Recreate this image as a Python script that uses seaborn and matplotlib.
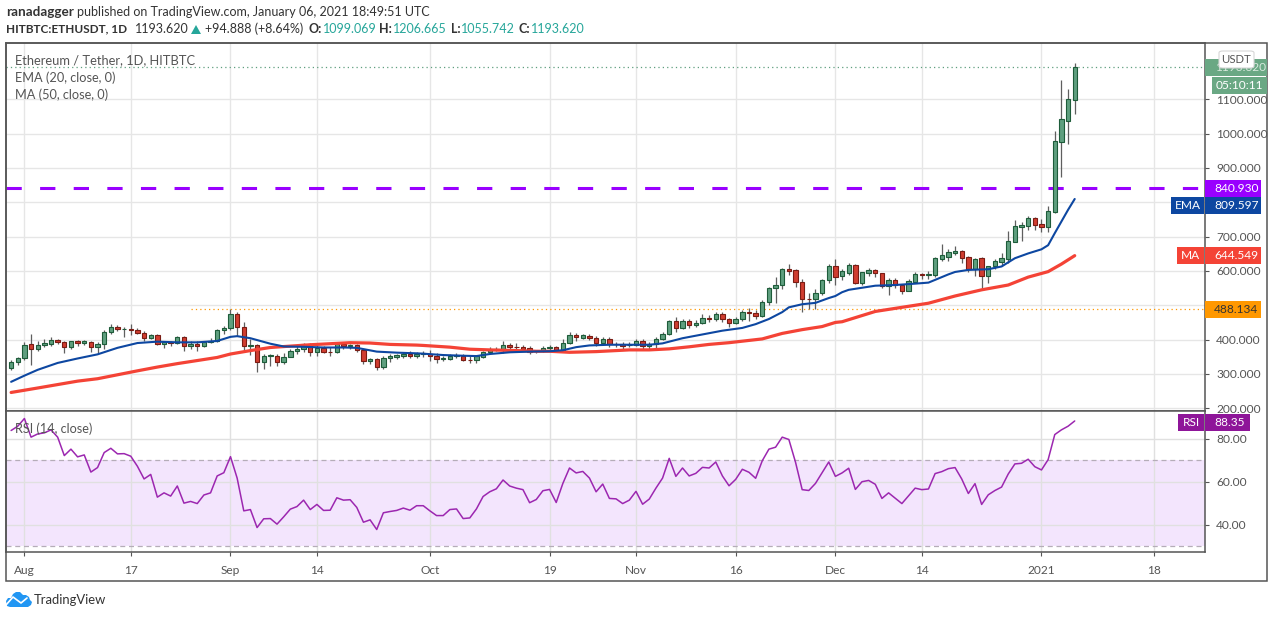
import pandas as pd
import matplotlib
matplotlib.use('Agg')
import matplotlib.pyplot as plt
from matplotlib.lines import Line2D
from matplotlib.patches import Rectangle, FancyBboxPatch, Polygon
import seaborn as sns

# candles, one per day from 2020-07-30, ten to a row
opens = [318,335,347,388,372,384,386,399,393,378,
         396,389,394,379,388,423,437,431,431,428,
         420,404,414,387,394,390,408,381,386,381,
         392,396,427,433,475,437,382,385,335,353,
         353,335,349,366,372,387,364,375,365,364,
         387,380,384,370,337,344,320,347,349,352,
         357,353,358,359,353,344,343,352,353,341,
         340,349,364,370,371,385,379,379,376,366,
         366,376,379,367,390,414,406,411,405,390,
         402,387,388,383,384,397,382,387,401,416,
         455,433,455,442,449,463,459,475,460,448,
         459,481,478,468,509,549,558,606,603,568,
         519,518,535,573,614,585,595,617,566,595,
         603,593,555,574,558,543,569,590,589,589,
         636,642,653,657,640,607,637,584,613,627,
         636,685,729,732,753,736,729,772,977,1038,
         1099.069]
closes = [335,347,385,372,385,389,399,393,378,396,
          390,395,379,388,423,437,430,431.5,427,419,
          405,414,387,394,390,408,382,386,381,394,
          396,428,434,475,437,381,385,335,353,354,
          335,350,367,373,387,364,376,364,364,388,
          380,384,370,337,344,321,347,351,354,357,
          352,358,360,352,343,345,353,355,340,340,
          351,365,370,373,385,378,378,374,365,367,
          376,379,366,391,414,407,412,404,390,402,
          387,386,381,385,397,381,388,402,417,455,
          433,455,442,449,463,459,475,459,448,460,
          481,477,468,510,550,559,606,601,567,517,
          518,536,574,614,581,599,617,566,596,603,
          593,555,574,558,543,570,590,589,590,637,
          646,654,657,639,607,636,584,613,628,637,
          686,730,733,753,735,729,774,978,1042,1100,
          1193.62]
highs = [341,350,392,415,397,403,407,403,397,397,
         399,399,396,393,429,444,442,436,446,433,
         426,417,417,397,396,411,411,395,396,397,
         405,430,441,488,481,450,402,388,359,359,
         357,360,374,383,391,391,383,381,378,394,
         391,387,388,374,347,346,353,357,358,364,
         368,364,368,371,361,351,359,361,357,351,
         355,368,378,378,395,390,390,383,380,370,
         380,384,382,401,421,419,417,417,411,409,
         408,394,393,393,401,402,392,409,421,457,
         467,461,459,456,475,473,480,479,463,465,
         485,492,485,514,554,581,609,621,607,577,
         535,548,577,620,636,605,622,620,598,609,
         607,595,580,578,562,576,596,595,601,640,
         679,663,673,661,644,638,640,615,634,651,
         716,749,743,760,758,751,789,1009,1156,1130,
         1206.665]
lows = [310,326,340,326,366,378,380,388,360,374,
        381,383,365,362,374,415,425,409,413,415,
        396,401,384,376,380,386,366,374,368,378,
        390,393,415,428,411,366,355,307,314,322,
        322,328,349,357,364,352,353,361,352,361,
        372,374,363,330,330,310,314,334,344,347,
        347,347,349,337,332,339,341,345,337,332,
        332,346,361,366,361,372,370,368,357,361,
        363,370,363,365,386,397,401,399,382,388,
        378,378,370,378,382,370,372,372,399,413,
        423,430,434,436,446,450,454,450,438,444,
        455,455,459,467,500,508,548,587,552,480,
        490,490,529,566,560,574,588,562,560,584,
        582,550,530,549,533,543,564,576,576,582,
        630,630,647,622,596,585,551,566,607,615,
        624,683,687,718,719,712,714,770,875,970,
        1055.742]

# indicator readings, day number counted from Aug 1
ema_days = [-2,-1,0,2,5,8,11,14,17,20,23,26,29,31,32,34,37,39,42,45,48,50,53,56,59,
            60,63,66,68,70,73,76,79,81,83,85,88,91,94,96,99,102,105,108,110,112,114,115,117,119,121,122,
            123,124,128,131,134,136,139,140,142,145,147,149,151,153,154,155,156,157,158]
ema_vals = [277,286,295,312,332,345,357,376,390,394,392,392,396,408,410,404,388,380,379,377,377,376,365,362,360,
            359,355,353,352,358,363,365,366,369,378,383,385,385,385,389,404,415,426,434,445,460,480,494,503,507,521,527,
            538,545,557,559,563,566,590,597,603,605,613,637,651,663,675,710,744,778,809.597]
ma_days = [-2,2,8,11,17,20,23,26,29,31,34,37,40,43,46,49,52,55,59,
           60,64,67,70,74,77,79,82,86,91,94,97,100,103,106,111,114,117,120,122,
           123,128,132,136,140,144,148,151,154,156,158]
ma_vals = [246,259,279,286,309,320,330,339,348,358,368,377,381,385,388,391,390,386,384,
           383,378,372,370,368,366,366,363,365,370,370,373,379,386,391,402,418,429,438,450,
           452,482,494,506,527,545,559,582,598,620,644.549]
rsi_vals = [83.9,85.9,89.5,80.8,82.3,82.8,84.2,80.8,72.2,75.2, 71.6,72.5,64.5,66.6,73.6,75.6,73.0,73.1,71.9,67.2,
            61.3,63.4,52.8,54.8,53.3,58.0,50.0,50.8,49.8,53.8, 54.8,62.7,64.2,71.7,61.7,46.4,47.0,38.6,42.7,42.8,
            40.2,43.6,47.2,48.4,51.4,47.0,49.4,46.6,46.7,52.5, 51.4,51.6,48.0,41.1,42.2,37.7,45.5,46.1,46.6,47.7,
            46.7,48.8,48.8,46.4,44.2,44.2,47.0,47.3,42.8,43.1, 47.3,53.1,55.3,56.7,60.8,58.0,57.0,56.3,50.2,51.7,
            55.8,56.4,50.3,59.2,66.4,64.1,64.8,61.7,55.3,58.9, 52.2,52.0,49.8,51.4,55.5,49.5,51.9,57.0,61.7,70.9,
            62.5,66.4,62.7,63.9,66.7,66.4,69.2,62.7,58.1,61.1, 65.8,64.4,61.6,69.8,75.2,76.1,80.8,79.7,69.1,56.3,
            55.9,59.2,64.2,69.2,62.5,64.1,66.3,56.4,60.0,60.6, 58.8,52.2,54.8,52.3,49.8,53.4,57.0,56.3,56.6,63.8,
            64.7,66.1,66.6,61.3,54.5,59.1,49.4,53.9,55.9,57.5, 63.6,68.3,68.6,70.5,67.0,65.5,70.3,82.0,84.2,85.9,
            88.35]

tick_dates = ['2020-08-01','2020-08-17','2020-09-01','2020-09-14','2020-10-01','2020-10-19','2020-11-01',
              '2020-11-16','2020-12-01','2020-12-14','2021-01-01','2021-01-18']
tick_labels = ['Aug','17','Sep','14','Oct','19','Nov','16','Dec','14','2021','18']
price_ticks = [200,300,400,500,600,700,800,900,1000,1100]
price_labels = ['200.000','300.000','400.000','','600.000','700.000','','900.000','1000.000','1100.000']
rsi_ticks = [40,60,80]
rsi_labels = ['40.00','60.00','80.00']

resistance = 840.930
support = 488.134
last_close = 1193.620

W, H = 1274, 618
FONT = 'Lato'
GREY = '#555555'
TAG = 8.6
sns.set_theme(style='white', rc={'axes.edgecolor': '#555555'})
plt.rcParams['font.family'] = [FONT, 'DejaVu Sans']


def pane(left, top, right, bottom):
    return fig.add_axes([left / W, 1 - bottom / H, (right - left) / W, (bottom - top) / H])


def put(x, y, s, **kw):
    kw.setdefault('fontsize', 9.0)
    kw.setdefault('va', 'center')
    kw.setdefault('color', '#333333')
    fig.text(x / W, 1 - y / H, s, **kw)


def box(x0, y0, x1, y1, color):
    fig.add_artist(Rectangle((x0 / W, 1 - y1 / H), (x1 - x0) / W, (y1 - y0) / H,
                             transform=fig.transFigure, facecolor=color, edgecolor='none', zorder=5))


fig = plt.figure(figsize=(W / 100, H / 100), dpi=100, facecolor='white')
dates = pd.date_range('2020-07-30', periods=len(closes))
day0 = pd.Timestamp('2020-08-01')
ticks = pd.to_datetime(tick_dates)
xlim = (day0 + pd.Timedelta(days=-2.77), day0 + pd.Timedelta(days=177.6))

ax = pane(6, 43, 1205, 411)
rs = pane(6, 411, 1205, 552)

# price pane
df = pd.DataFrame({'date': dates, 'o': opens, 'c': closes, 'h': highs, 'l': lows})
up = df[df.c >= df.o]
down = df[df.c < df.o]
ax.vlines(df.date, df.l, df.h, color='#5f5f5f', lw=0.9, zorder=3)
ax.bar(up.date, (up.c - up.o), bottom=up.o, width=0.66, color='#5f9f7f', edgecolor='#1e5c3a', lw=0.8, zorder=4)
ax.bar(down.date, (down.o - down.c), bottom=down.c, width=0.66, color='#d03d30', edgecolor='#7a1c14', lw=0.8, zorder=4)

ema = pd.DataFrame({'date': day0 + pd.to_timedelta(ema_days, unit='D'), 'v': ema_vals})
ma = pd.DataFrame({'date': day0 + pd.to_timedelta(ma_days, unit='D'), 'v': ma_vals})
sns.lineplot(data=ma, x='date', y='v', ax=ax, color='#f44336', lw=2.3, errorbar=None, zorder=5)
sns.lineplot(data=ema, x='date', y='v', ax=ax, color='#0d47a1', lw=1.5, errorbar=None, zorder=6)

ax.axhline(resistance, color='#9900ff', lw=2.2, dashes=(5, 6), zorder=2)
ax.plot([day0 + pd.Timedelta(days=25), xlim[1]], [support, support], color='#ff9800', lw=0.9, ls=(0, (1, 2.5)), zorder=2)
ax.axhline(last_close, color='#5f9f7f', lw=0.9, ls=(0, (1, 2.5)), zorder=2)

ax.set_xlim(xlim)
ax.set_ylim(192, 1264)
ax.set_xticks(ticks)
ax.set_xticklabels([])
ax.set_yticks(price_ticks)
ax.set_yticklabels(price_labels)
ax.yaxis.tick_right()
ax.grid(True, color='#e6e6e6', lw=1)
ax.set_axisbelow(True)
ax.set_xlabel('')
ax.set_ylabel('')
ax.tick_params(axis='y', length=3, width=0.8, color=GREY, labelcolor=GREY, labelsize=TAG, pad=5, right=True)
ax.tick_params(axis='x', length=0)

# rsi pane
rs.axhspan(30, 70, color='#f3e5fd', zorder=0, lw=0)
rs.axhline(70, color='#b5adb8', lw=0.9, dashes=(4, 3), zorder=1)
rs.axhline(30, color='#b5adb8', lw=0.9, dashes=(4, 3), zorder=1)
sns.lineplot(x=dates, y=rsi_vals, ax=rs, color='#9c27b0', lw=1.1, errorbar=None, zorder=4)
rs.set_xlim(xlim)
rs.set_ylim(27.2, 93)
rs.set_xticks(ticks)
rs.set_xticklabels(tick_labels)
rs.set_yticks(rsi_ticks)
rs.set_yticklabels(rsi_labels)
rs.yaxis.tick_right()
rs.grid(True, color='#e0e0e0', lw=1)
rs.set_axisbelow(True)
rs.set_xlabel('')
rs.set_ylabel('')
rs.tick_params(axis='y', length=3, width=0.8, color=GREY, labelcolor=GREY, labelsize=TAG, pad=5, right=True)
rs.tick_params(axis='x', length=3, width=0.8, color=GREY, labelcolor=GREY, labelsize=8.6, pad=6, bottom=True)
for a in (ax, rs):
    for s in a.spines.values():
        s.set_color(GREY)
        s.set_linewidth(1.1)

# outer frame
fig.add_artist(Rectangle((6 / W, 1 - 581 / H), 1261 / W, 538 / H, transform=fig.transFigure,
                         facecolor='none', edgecolor=GREY, lw=1.1, zorder=4))

# pane legends
put(15, 60.5, 'Ethereum / Tether, 1D, HITBTC', color='#555555', fontsize=9.3, zorder=7)
put(15, 77.5, 'EMA (20, close, 0)', color='#555555', fontsize=9.2, zorder=7)
put(15, 94.5, 'MA (50, close, 0)', color='#555555', fontsize=9.2, zorder=7)
put(15, 428.5, 'RSI (14, close)', color='#555555', fontsize=9.1, zorder=7)

# header
put(6, 12, 'ranadagger', fontweight='bold', fontsize=9.7)
put(77, 12, 'published on TradingView.com, January 06, 2021 18:49:51 UTC')
put(6, 29, 'HITBTC:ETHUSDT, 1D', fontweight='bold', fontsize=8.5)
put(135, 29, '1193.620')
fig.add_artist(Polygon([(191 / W, 1 - 34 / H), (201 / W, 1 - 34 / H), (196 / W, 1 - 25 / H)],
                       transform=fig.transFigure, facecolor='#26a69a', edgecolor='none'))
put(205, 29, '+94.888 (+8.64%)')
for x_lab, x_val, lab, val in [(308.7, 322.7, 'O:', '1099.069'), (379, 393, 'H:', '1206.665'),
                               (450.7, 461, 'L:', '1055.742'), (518.7, 530.7, 'C:', '1193.620')]:
    put(x_lab, 29, lab, fontweight='bold')
    put(x_val, 29, val, color='#26a69a')

# price tags
box(1205, 59, 1267, 76, '#6aa884')
put(1215, 67.5, '1193.620', color='#d7e8dd', fontsize=TAG, zorder=6)
box(1212, 77, 1267, 94, '#6aa884')
put(1216, 85.5, '05:10:11', color='white', fontsize=TAG, zorder=6)
fig.add_artist(FancyBboxPatch((1219 / W, 1 - 68 / H), 35 / W, 17 / H, boxstyle='round,pad=0,rounding_size=0.003',
                              transform=fig.transFigure, facecolor='white', edgecolor='#d6d6d6', lw=0.8, zorder=7))
put(1236.5, 59.5, 'USDT', color=GREY, fontsize=8.2, ha='center', zorder=8)

for y0, color, txt, tcol in [(180, '#9900ff', '840.930', 'white'), (197, '#0d47a1', '809.597', 'white'),
                             (247, '#f44336', '644.549', 'white'), (301, '#ff9800', '488.134', '#333333')]:
    box(1205, y0, 1261, y0 + 16.7, color)
    put(1214, y0 + 8.3, txt, color=tcol, fontsize=TAG, zorder=6)
box(1171, 197, 1204, 213.7, '#0d47a1')
put(1187.5, 205.3, 'EMA', color='white', fontsize=TAG, ha='center', zorder=6)
box(1177, 247, 1204, 263.7, '#f44336')
put(1190.5, 255.3, 'MA', color='white', fontsize=TAG, ha='center', zorder=6)
box(1178, 414, 1204, 430.5, '#8e1599')
put(1191, 422, 'RSI', color='white', fontsize=TAG, ha='center', zorder=6)
box(1205, 414, 1250, 430.5, '#8e1599')
put(1214, 422, '88.35', color='white', fontsize=TAG, zorder=6)

# logo: blue cloud with a white zigzag
cloud = [(6, 601), (8, 598), (11, 598), (13, 594), (16, 592), (20, 592), (23, 595), (26, 595), (29, 597),
         (30, 600), (32, 602), (31, 605), (28, 607), (10, 607), (7, 606)]
fig.add_artist(Polygon([(x / W, 1 - y / H) for x, y in cloud], transform=fig.transFigure,
                       facecolor='#2196f3', edgecolor='none'))
zig = [(6, 605), (13, 597), (21, 603), (27, 598)]
fig.add_artist(Line2D([x / W for x, y in zig], [1 - y / H for x, y in zig], transform=fig.transFigure,
                      color='white', lw=1.2))
put(34, 600, 'TradingView', color='#333333', fontsize=9.4)

fig.savefig('out.png', dpi=100, facecolor='white')
